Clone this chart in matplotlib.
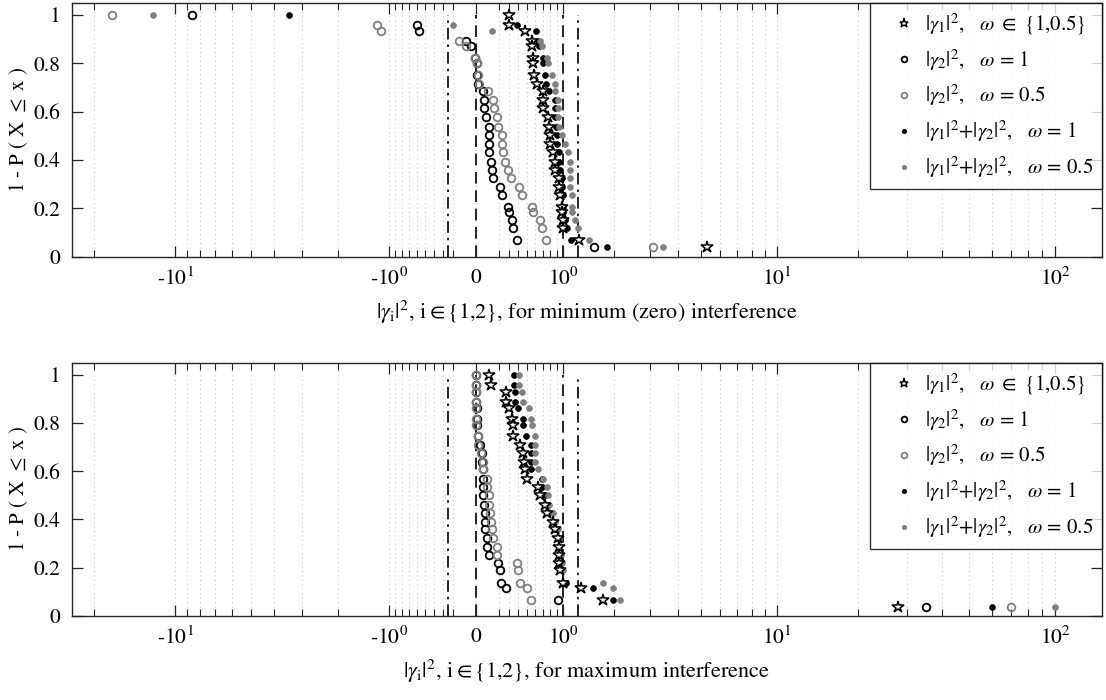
import numpy as np
import matplotlib
matplotlib.use('Agg')
import matplotlib.pyplot as plt
from matplotlib.ticker import FixedLocator, FixedFormatter, NullFormatter

plt.rcParams['font.family'] = ['STIXGeneral', 'DejaVu Serif']
plt.rcParams['mathtext.fontset'] = 'stix'

# ---------------- data ----------------
# CCDF levels (1 - P(X <= x))
levels_min = [1.0, 0.959, 0.931, 0.890, 0.869, 0.821, 0.80, 0.752, 0.715, 0.683, 0.648, 0.614,
              0.577, 0.538, 0.504, 0.466, 0.434, 0.393, 0.359, 0.324, 0.29, 0.255, 0.207, 0.186,
              0.152, 0.117, 0.069, 0.041]
levels_max = [1.0, 0.958, 0.93, 0.887, 0.862, 0.818, 0.793, 0.746, 0.71, 0.677, 0.638, 0.607,
              0.569, 0.534, 0.5, 0.461, 0.427, 0.39, 0.358, 0.321, 0.286, 0.252, 0.22, 0.19,
              0.137, 0.113, 0.065, 0.037]

# minimum (zero) interference
min_g1 = [0.30, 0.30, 0.48, 0.56, 0.56, 0.57, 0.57, 0.59, 0.62, 0.70, 0.70, 0.70, 0.77, 0.79,
          0.81, 0.81, 0.85, 0.88, 0.88, 0.93, 0.94, 0.95, 0.98, 0.98, 0.995, 0.995, 1.28, 5.3]
min_g2_w1 = [-8.64, -0.60, -0.58, -0.083, -0.041, -0.008, 0.0055, 0.0055, 0.019, 0.055, 0.066,
             0.066, 0.080, 0.112, 0.112, 0.112, 0.112, 0.127, 0.139, 0.148, 0.211, 0.227, 0.287,
             0.300, 0.335, 0.346, 0.390, 1.567]
min_g2_w05 = [-17.2, -1.196, -1.137, -0.147, -0.084, -0.008, 0.0055, 0.019, 0.027, 0.103, 0.143,
              0.154, 0.179, 0.195, 0.227, 0.227, 0.243, 0.260, 0.287, 0.319, 0.409, 0.439, 0.558,
              0.579, 0.666, 0.688, 0.747, 3.108]
min_sum_w1 = [-3.43, 0.382, 0.613, 0.643, 0.656, 0.71, 0.71, 0.733, 0.747, 0.793, 0.87, 0.877,
              0.88, 0.885, 0.902, 0.902, 0.942, 0.942, 0.953, 0.98, 0.98, 0.995, 0.995, 1.005,
              1.032, 1.059, 1.126, 1.848]
min_sum_w05 = [-12.08, -0.204, 0.139, 0.665, 0.687, 0.756, 0.77, 0.827, 0.877, 0.877, 0.917,
               0.927, 0.927, 0.942, 0.98, 1.032, 1.087, 1.115, 1.115, 1.115, 1.115, 1.143, 1.143,
               1.143, 1.201, 1.26, 1.467, 3.425]

# maximum interference
max_g1 = [0.112, 0.123, 0.27, 0.27, 0.30, 0.329, 0.346, 0.346, 0.42, 0.45, 0.465, 0.478, 0.505,
          0.643, 0.67, 0.733, 0.765, 0.852, 0.875, 0.927, 0.942, 0.942, 0.942, 0.96, 1.005,
          1.302, 1.757, 27.8]
max_g2_w1 = [0.0, 0.0, 0.0, 0.003, 0.005, 0.007, 0.01, 0.015, 0.035, 0.046, 0.046, 0.055, 0.055,
             0.06, 0.06, 0.069, 0.074, 0.074, 0.074, 0.089, 0.089, 0.112, 0.195, 0.211, 0.218,
             0.27, 0.927, 35.0]
max_g2_w05 = [0.0, 0.0, 0.0, 0.0, 0.0, 0.0, 0.003, 0.019, 0.019, 0.04, 0.055, 0.06, 0.089, 0.095,
              0.112, 0.112, 0.118, 0.123, 0.133, 0.148, 0.179, 0.179, 0.382, 0.401, 0.42, 0.505,
              0.55, 70.0]
max_sum_w1 = [0.354, 0.354, 0.364, 0.364, 0.401, 0.45, 0.45, 0.489, 0.546, 0.546, 0.546, 0.546,
              0.687, 0.687, 0.733, 0.756, 0.793, 0.862, 0.877, 0.927, 0.942, 0.942, 0.942, 0.98,
              1.048, 1.533, 1.972, 60.0]
max_sum_w05 = [0.412, 0.412, 0.439, 0.45, 0.52, 0.546, 0.558, 0.60, 0.60, 0.60, 0.60, 0.643,
               0.71, 0.756, 0.779, 0.793, 0.851, 0.877, 0.927, 0.942, 0.942, 0.962, 0.98, 0.995,
               1.757, 1.972, 2.15, 100.0]

dashed_x = [0, 1]
dashdot_x = [-0.25, 1.25]

labels = [r'$|\gamma_1|^2$,   $\omega\ \in\ \{1{,}0.5\}$',
          r'$|\gamma_2|^2$,   $\omega$ = 1',
          r'$|\gamma_2|^2$,   $\omega$ = 0.5',
          r'$|\gamma_1|^2$+$|\gamma_2|^2$,   $\omega$ = 1',
          r'$|\gamma_1|^2$+$|\gamma_2|^2$,   $\omega$ = 0.5']

major_ticks = [-10, -1, 0, 1, 10, 100]
major_labels = ['-10$^1$', '-10$^0$', '0', '10$^0$', '10$^1$', '10$^2$']
minor_ticks = ([-20] + list(range(-9, -1)) + [-0.9, -0.8, -0.7, -0.6, -0.5, -0.4, -0.3, -0.2]
               + [0.2, 0.3, 0.4, 0.5, 0.6, 0.7, 0.8, 0.9] + list(range(2, 10))
               + [20, 30, 40, 50, 60, 70, 80, 90])

xlabels = [r'$|\gamma_{\rm i}|^2$, i$\in${1,2}, for minimum (zero) interference',
           r'$|\gamma_{\rm i}|^2$, i$\in${1,2}, for maximum interference']

# ---------------- scale ----------------
def fwd(x):
    x = np.asarray(x, dtype=float)
    return np.sign(x) * np.log10(1 + np.abs(x))

def inv(y):
    y = np.asarray(y, dtype=float)
    return np.sign(y) * (10 ** np.abs(y) - 1)

GRAY = (0.5, 0.5, 0.5)

fig = plt.figure(figsize=(11.06, 7.0), dpi=100)
W, H = 1106, 700
ax_left, ax_right = 71.7, 1102
panels = [(2.7, 256.7), (362.7, 615.7)]

datasets = [
    (levels_min, min_g1, min_g2_w1, min_g2_w05, min_sum_w1, min_sum_w05),
    (levels_max, max_g1, max_g2_w1, max_g2_w05, max_sum_w1, max_sum_w05),
]

for (ptop, pbot), ds, xl in zip(panels, datasets, xlabels):
    ax = fig.add_axes([ax_left / W, 1 - pbot / H, (ax_right - ax_left) / W, (pbot - ptop) / H])
    ax.set_xscale('function', functions=(fwd, inv))
    lev, g1, g2a, g2b, sa, sb = ds

    for xv in minor_ticks + major_ticks:
        ax.axvline(xv, color=(0.78, 0.78, 0.78), lw=0.8, ls=(0, (1, 3)), zorder=0)
    for xv in dashed_x:
        ax.plot([xv, xv], [0, 1], color='k', lw=1.2, ls=(0, (7, 4)), zorder=1)
    for xv in dashdot_x:
        ax.plot([xv, xv], [0, 1], color='k', lw=1.2, ls=(0, (7, 3, 1.5, 3)), zorder=1)

    h2 = ax.plot(g2a, lev, ls='none', marker='o', ms=5.5, mfc='none', mec='k', mew=1.3, zorder=3)[0]
    h3 = ax.plot(g2b, lev, ls='none', marker='o', ms=5.5, mfc='none', mec=GRAY, mew=1.3, zorder=3)[0]
    h4 = ax.plot(sa, lev, ls='none', marker='o', ms=4.2, mfc='k', mec='k', mew=0.5, zorder=3)[0]
    h5 = ax.plot(sb, lev, ls='none', marker='o', ms=4.2, mfc=GRAY, mec=GRAY, mew=0.5, zorder=3)[0]
    h1 = ax.plot(g1, lev, ls='none', marker='*', ms=9, mfc='white', mec='k', mew=1.1, zorder=4)[0]

    ax.set_xlim(-24.06, 145.6)
    ax.set_ylim(0, 1.05)
    ax.xaxis.set_major_locator(FixedLocator(major_ticks))
    ax.xaxis.set_major_formatter(FixedFormatter(major_labels))
    ax.xaxis.set_minor_locator(FixedLocator(minor_ticks))
    ax.xaxis.set_minor_formatter(NullFormatter())
    ax.set_yticks([0, 0.2, 0.4, 0.6, 0.8, 1.0])
    ax.set_yticklabels(['0', '0.2', '0.4', '0.6', '0.8', '1'])
    ax.tick_params(which='both', direction='in', top=True, right=True, labelsize=15.5,
                   color=(0.15, 0.15, 0.15))
    ax.tick_params(which='major', length=8, width=0.9, pad=8)
    ax.tick_params(which='minor', length=5, width=0.8)
    for s in ax.spines.values():
        s.set_linewidth(1.0)
        s.set_color((0.15, 0.15, 0.15))
    ax.set_xlabel(xl, fontsize=16, labelpad=6)
    ax.set_ylabel(r'1 - P ( X $\leq$ x )', fontsize=15, labelpad=3)

    leg = ax.legend([h1, h2, h3, h4, h5], labels, loc='upper right', bbox_to_anchor=(1.0, 1.0),
                    borderaxespad=0, fontsize=15, frameon=True, fancybox=False,
                    edgecolor='k', markerscale=0.75, handlelength=2.4, handletextpad=-0.2,
                    labelspacing=0.5, borderpad=0.42)
    leg.get_frame().set_linewidth(1.0)

fig.savefig('out.png', dpi=100)
